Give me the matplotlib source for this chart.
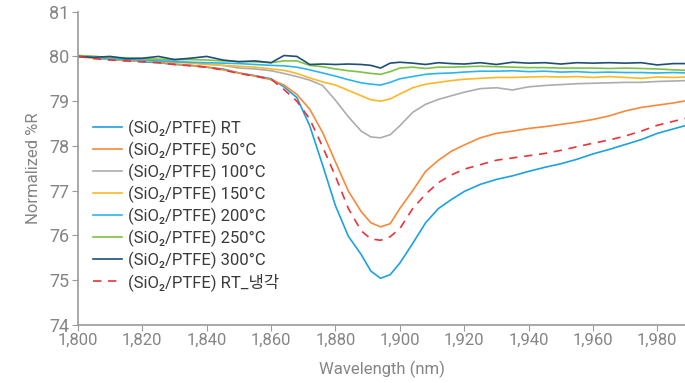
import matplotlib
matplotlib.use('Agg')
import matplotlib.pyplot as plt

plt.rcParams['font.family'] = ['Roboto', 'Noto Sans CJK KR', 'DejaVu Sans']

# Wavelength grid (nm)
wavelength = [1800, 1805, 1810, 1815, 1820, 1825, 1830, 1835, 1840, 1845, 1850,
              1855, 1860, 1864, 1868, 1872, 1876, 1880, 1884, 1888, 1891, 1894,
              1897, 1900, 1904, 1908, 1912, 1916, 1920, 1925, 1930, 1935, 1940,
              1945, 1950, 1955, 1960, 1965, 1970, 1975, 1980, 1985, 1989]

r_rt = [80.0, 79.97, 79.93, 79.92, 79.88, 79.86, 79.82, 79.8, 79.76, 79.72, 79.63,
        79.57, 79.5, 79.32, 79.08, 78.45, 77.57, 76.66, 75.98, 75.57, 75.2, 75.04,
        75.12, 75.38, 75.82, 76.28, 76.6, 76.8, 76.98, 77.14, 77.25, 77.33, 77.43,
        77.52, 77.6, 77.7, 77.82, 77.92, 78.03, 78.14, 78.28, 78.38, 78.46]
r_50 = [80.0, 79.96, 79.94, 79.9, 79.9, 79.87, 79.83, 79.8, 79.76, 79.7, 79.63,
        79.56, 79.48, 79.36, 79.15, 78.82, 78.3, 77.64, 76.99, 76.53, 76.28, 76.19,
        76.26, 76.6, 77.0, 77.43, 77.68, 77.88, 78.02, 78.18, 78.28, 78.33, 78.39,
        78.43, 78.48, 78.53, 78.59, 78.67, 78.78, 78.86, 78.91, 78.96, 79.01]
r_100 = [80.02, 80.0, 79.97, 79.95, 79.94, 79.92, 79.9, 79.86, 79.83, 79.8, 79.74,
         79.72, 79.68, 79.62, 79.55, 79.47, 79.35, 79.02, 78.65, 78.33, 78.2, 78.18,
         78.25, 78.45, 78.75, 78.93, 79.04, 79.12, 79.2, 79.28, 79.3, 79.25, 79.32,
         79.35, 79.37, 79.39, 79.4, 79.41, 79.42, 79.42, 79.44, 79.45, 79.46]
r_150 = [80.0, 79.97, 79.95, 79.92, 79.9, 79.9, 79.87, 79.85, 79.82, 79.8, 79.78,
         79.76, 79.72, 79.69, 79.62, 79.52, 79.43, 79.36, 79.24, 79.12, 79.03, 79.0,
         79.05, 79.16, 79.3, 79.38, 79.42, 79.46, 79.49, 79.51, 79.53, 79.53, 79.54,
         79.55, 79.54, 79.55, 79.53, 79.55, 79.53, 79.51, 79.54, 79.53, 79.54]
r_200 = [80.0, 79.98, 79.95, 79.93, 79.92, 79.9, 79.88, 79.87, 79.86, 79.85, 79.84,
         79.82, 79.8, 79.79, 79.76, 79.7, 79.63, 79.56, 79.48, 79.41, 79.38, 79.36,
         79.42, 79.5, 79.55, 79.6, 79.62, 79.63, 79.65, 79.67, 79.67, 79.68, 79.66,
         79.67, 79.65, 79.66, 79.64, 79.65, 79.64, 79.64, 79.63, 79.64, 79.63]
r_250 = [80.02, 80.0, 79.98, 79.97, 79.95, 79.94, 79.93, 79.93, 79.92, 79.9, 79.89,
         79.88, 79.86, 79.9, 79.9, 79.8, 79.77, 79.72, 79.68, 79.65, 79.62, 79.6,
         79.66, 79.74, 79.76, 79.73, 79.76, 79.76, 79.77, 79.78, 79.77, 79.76, 79.75,
         79.75, 79.74, 79.74, 79.74, 79.73, 79.74, 79.73, 79.72, 79.7, 79.69]
r_300 = [80.0, 79.98, 80.0, 79.95, 79.96, 80.0, 79.93, 79.96, 80.0, 79.92, 79.88,
         79.9, 79.86, 80.02, 80.0, 79.82, 79.83, 79.82, 79.83, 79.82, 79.8, 79.74,
         79.85, 79.87, 79.85, 79.82, 79.86, 79.84, 79.83, 79.86, 79.82, 79.87, 79.85,
         79.86, 79.83, 79.86, 79.85, 79.86, 79.85, 79.86, 79.81, 79.84, 79.84]
r_rt_cool = [80.0, 79.95, 79.92, 79.9, 79.88, 79.86, 79.82, 79.79, 79.76, 79.7, 79.62,
             79.56, 79.49, 79.26, 79.0, 78.6, 77.98, 77.32, 76.6, 76.1, 75.92, 75.89,
             75.97, 76.15, 76.6, 76.92, 77.18, 77.35, 77.48, 77.58, 77.68, 77.73, 77.78,
             77.83, 77.9, 77.98, 78.06, 78.13, 78.22, 78.33, 78.46, 78.55, 78.62]

labels = ['(SiO₂/PTFE) RT', '(SiO₂/PTFE) 50°C', '(SiO₂/PTFE) 100°C',
          '(SiO₂/PTFE) 150°C', '(SiO₂/PTFE) 200°C', '(SiO₂/PTFE) 250°C',
          '(SiO₂/PTFE) 300°C', '(SiO₂/PTFE) RT_냉각']
series = [r_rt, r_50, r_100, r_150, r_200, r_250, r_300, r_rt_cool]
colors = ['#1DA1E2', '#F7893A', '#ADADAD', '#FDB827', '#2BB5EE',
          '#7DC243', '#1F4E79', '#E8343A']

x_ticks = [1800, 1820, 1840, 1860, 1880, 1900, 1920, 1940, 1960, 1980]
y_ticks = [74, 75, 76, 77, 78, 79, 80, 81]

grey = '#858585'

fig = plt.figure(figsize=(6.85, 3.83), dpi=100)
ax = fig.add_axes([78 / 685, 1 - 324.8 / 383, 1 - 78 / 685, (324.8 - 11.7) / 383])

for y, lab, c in zip(series, labels, colors):
    ls = (0, (5, 4)) if 'RT_' in lab else '-'
    ax.plot(wavelength, y, color=c, lw=1.2, ls=ls, label=lab)

ax.set_xlim(1800, 1988.6)
ax.set_ylim(74, 81)
ax.set_xticks(x_ticks)
ax.set_xticklabels([f'{v:,}' for v in x_ticks])
ax.set_yticks(y_ticks)

for s in ['top', 'right']:
    ax.spines[s].set_visible(False)
for s in ['left', 'bottom']:
    ax.spines[s].set_color('#9A9A9A')
    ax.spines[s].set_linewidth(1.2)

ax.tick_params(axis='x', colors='#9A9A9A', labelcolor=grey, labelsize=12, length=4, pad=2)
ax.tick_params(axis='y', colors='#9A9A9A', labelcolor=grey, labelsize=13, length=4, pad=2)

ax.set_xlabel('Wavelength (nm)', color=grey, fontsize=12, labelpad=9)
ax.set_ylabel('Normalized %R', color=grey, fontsize=12, labelpad=6)

leg = ax.legend(loc='upper left', bbox_to_anchor=(0.025, 0.655), frameon=False,
                fontsize=12, handlelength=1.7, handletextpad=0.4,
                labelspacing=0.28, borderpad=0, borderaxespad=0)
for t in leg.get_texts():
    t.set_color('#3A3A3A')

fig.savefig('out.png', dpi=100)
